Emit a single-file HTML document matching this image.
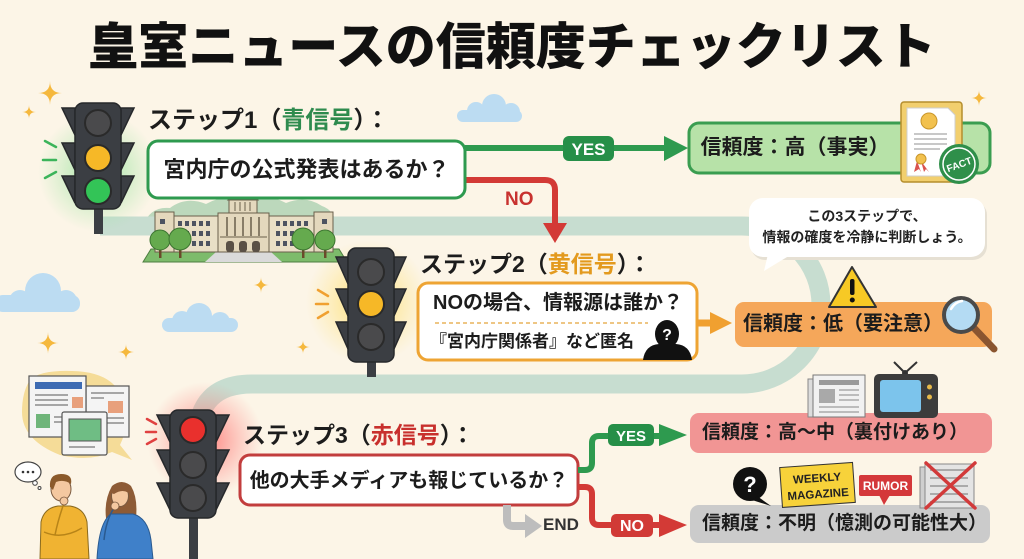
<!DOCTYPE html>
<html><head><meta charset="utf-8">
<style>
*{margin:0;padding:0;box-sizing:border-box}
body{width:1024px;height:559px;overflow:hidden;background:#fcf5e7;font-family:"Liberation Sans","Noto Sans CJK JP",sans-serif;}
#c{position:relative;width:1024px;height:559px;overflow:hidden}
svg{position:absolute;left:0;top:0}
.t{position:absolute;white-space:nowrap;font-weight:700;color:#1c1c1c}
</style></head><body><div id="c">
<svg width="1024" height="559" viewBox="0 0 1024 559" xmlns="http://www.w3.org/2000/svg">
<defs>
<radialGradient id="gG"><stop offset="0" stop-color="#7fe08a" stop-opacity=".75"/><stop offset="1" stop-color="#9be3a0" stop-opacity="0"/></radialGradient>
<radialGradient id="gY"><stop offset="0" stop-color="#ffd84a" stop-opacity=".8"/><stop offset="1" stop-color="#ffe27a" stop-opacity="0"/></radialGradient>
<radialGradient id="gR"><stop offset="0" stop-color="#ff5a5a" stop-opacity=".75"/><stop offset="1" stop-color="#ff8080" stop-opacity="0"/></radialGradient>
</defs>

<!-- clouds -->
<g fill="#bcdcf2">
<rect x="-5" y="295" width="85" height="17" rx="8"/><circle cx="20" cy="301" r="11"/><circle cx="43" cy="291" r="18"/><circle cx="66" cy="301" r="11"/>
<rect x="162" y="318" width="76" height="14" rx="7"/><circle cx="182" cy="321" r="10"/><circle cx="199" cy="316" r="13"/><circle cx="220" cy="322" r="10"/>
<rect x="457" y="110" width="65" height="12" rx="6"/><circle cx="476" cy="111" r="9"/><circle cx="494" cy="106" r="12"/><circle cx="511" cy="112" r="9"/>
</g>

<!-- sparkles -->
<g fill="#f5b83d">
<path d="M50 81 Q50 93 62 93 Q50 93 50 105 Q50 93 38 93 Q50 93 50 81Z"/>
<path d="M29 105 Q29 112 36 112 Q29 112 29 119 Q29 112 22 112 Q29 112 29 105Z"/>
<path d="M979 90 Q979 98 987 98 Q979 98 979 106 Q979 98 971 98 Q979 98 979 90Z"/>
<path d="M261 277 Q261 285 269 285 Q261 285 261 293 Q261 285 253 285 Q261 285 261 277Z"/>
<path d="M48 332 Q48 343 59 343 Q48 343 48 354 Q48 343 37 343 Q48 343 48 332Z"/>
<path d="M126 344 Q126 352 134 352 Q126 352 126 360 Q126 352 118 352 Q126 352 126 344Z"/>
<path d="M303 340 Q303 347 310 347 Q303 347 303 354 Q303 347 296 347 Q303 347 303 340Z"/>
</g>

<!-- hills -->
<path d="M143 226 Q150 206 170 208 Q186 196 206 204 Q226 193 246 200 Q266 192 286 203 Q306 195 322 206 Q334 210 337 226 Z" fill="#bcd8bc"/>

<!-- road -->
<path d="M100 226 H742 A79 79 0 0 1 742 384 H252 Q197 384 197 440" stroke="#c7ddd0" stroke-width="19" fill="none"/>

<!-- glows -->
<ellipse cx="98" cy="172" rx="60" ry="60" fill="url(#gG)"/>
<ellipse cx="368" cy="302" rx="62" ry="62" fill="url(#gY)"/>
<ellipse cx="205" cy="440" rx="58" ry="58" fill="url(#gR)"/>

<!-- building -->
<path d="M143 262 L151 249 H339 L347 262 Z" fill="#7dbb6b" stroke="#4d7d40" stroke-width="1"/>
<path d="M205 262 L216 252 H271 L282 262 Z" fill="#dadada"/>
<rect x="155" y="216" width="178" height="36" fill="#e9dfc6" stroke="#6a5f4c" stroke-width="1"/>
<rect x="155" y="212" width="19" height="40" fill="#e4d8bd" stroke="#6a5f4c" stroke-width="1"/>
<rect x="314" y="212" width="19" height="40" fill="#e4d8bd" stroke="#6a5f4c" stroke-width="1"/>
<g fill="#4d5361">
<rect x="160" y="219" width="5" height="5"/><rect x="322" y="219" width="5" height="5"/>
<rect x="178" y="221" width="4" height="5"/><rect x="185" y="221" width="4" height="5"/><rect x="192" y="221" width="4" height="5"/><rect x="199" y="221" width="4" height="5"/><rect x="206" y="221" width="4" height="5"/>
<rect x="178" y="231" width="4" height="5"/><rect x="185" y="231" width="4" height="5"/><rect x="192" y="231" width="4" height="5"/><rect x="199" y="231" width="4" height="5"/><rect x="206" y="231" width="4" height="5"/>
<rect x="178" y="241" width="4" height="5"/><rect x="185" y="241" width="4" height="5"/><rect x="192" y="241" width="4" height="5"/><rect x="199" y="241" width="4" height="5"/><rect x="206" y="241" width="4" height="5"/>
<rect x="276" y="221" width="4" height="5"/><rect x="283" y="221" width="4" height="5"/><rect x="290" y="221" width="4" height="5"/><rect x="297" y="221" width="4" height="5"/><rect x="304" y="221" width="4" height="5"/>
<rect x="276" y="231" width="4" height="5"/><rect x="283" y="231" width="4" height="5"/><rect x="290" y="231" width="4" height="5"/><rect x="297" y="231" width="4" height="5"/><rect x="304" y="231" width="4" height="5"/>
<rect x="276" y="241" width="4" height="5"/><rect x="283" y="241" width="4" height="5"/><rect x="290" y="241" width="4" height="5"/><rect x="297" y="241" width="4" height="5"/><rect x="304" y="241" width="4" height="5"/>
</g>
<rect x="218" y="213" width="51" height="39" fill="#e4d8bd" stroke="#6a5f4c" stroke-width="1"/>
<g stroke="#6a5f4c" stroke-width="1.5"><line x1="227" y1="217" x2="227" y2="236"/><line x1="235" y1="217" x2="235" y2="236"/><line x1="243" y1="217" x2="243" y2="236"/><line x1="251" y1="217" x2="251" y2="236"/><line x1="259" y1="217" x2="259" y2="236"/></g>
<line x1="220" y1="237" x2="267" y2="237" stroke="#6a5f4c"/>
<g fill="#5a5046"><rect x="226" y="241" width="8" height="11" rx="3"/><rect x="239" y="241" width="8" height="11" rx="3"/><rect x="252" y="241" width="8" height="11" rx="3"/></g>
<rect x="229" y="200" width="28" height="13" fill="#e4d8bd" stroke="#6a5f4c" stroke-width="1"/>
<g stroke="#6a5f4c"><line x1="235" y1="202" x2="235" y2="211"/><line x1="240" y1="202" x2="240" y2="211"/><line x1="245" y1="202" x2="245" y2="211"/><line x1="250" y1="202" x2="250" y2="211"/></g>
<polygon points="243,186 228,200 258,200" fill="#d3c6a8" stroke="#6a5f4c" stroke-width="1"/>
<g fill="#6a4a2a"><rect x="159" y="246" width="2.5" height="12"/><rect x="179" y="246" width="2.5" height="12"/><rect x="302" y="246" width="2.5" height="12"/><rect x="324" y="246" width="2.5" height="12"/></g>
<g fill="#65aa4e" stroke="#3b7430" stroke-width="1"><circle cx="160" cy="240" r="10"/><circle cx="180" cy="239" r="11"/><circle cx="303" cy="239" r="11"/><circle cx="325" cy="240" r="10"/></g>

<!-- traffic light 1 -->
<rect x="94" y="207" width="9" height="27" fill="#3b3e43"/>
<g fill="#3b3e43" stroke="#26282b" stroke-width="1.5">
<polygon points="75,108 62,108 75,135"/><polygon points="121,108 134,108 121,135"/>
<polygon points="75,143 62,143 75,170"/><polygon points="121,143 134,143 121,170"/>
<polygon points="75,176 62,176 75,203"/><polygon points="121,176 134,176 121,203"/>
<rect x="75" y="103" width="46" height="106" rx="8"/>
</g>
<circle cx="98" cy="123" r="13" fill="#4a4a4c" stroke="#2a2a2a" stroke-width="2"/>
<circle cx="98" cy="158" r="13" fill="#f6b827" stroke="#2a2a2a" stroke-width="2"/>
<circle cx="98" cy="191" r="13" fill="#33c457" stroke="#2a2a2a" stroke-width="2"/>
<g stroke="#3bb45a" stroke-width="2.5" stroke-linecap="round"><line x1="45" y1="141" x2="56" y2="147"/><line x1="43" y1="160" x2="56" y2="160"/><line x1="45" y1="178" x2="56" y2="172"/></g>

<!-- traffic light 2 -->
<rect x="367" y="360" width="9" height="17" fill="#3b3e43"/>
<g fill="#3b3e43" stroke="#26282b" stroke-width="1.5">
<polygon points="348,257 336,257 348,284"/><polygon points="394,257 406,257 394,284"/>
<polygon points="348,289 336,289 348,316"/><polygon points="394,289 406,289 394,316"/>
<polygon points="348,322 336,322 348,349"/><polygon points="394,322 406,322 394,349"/>
<rect x="348" y="248" width="46" height="114" rx="8"/>
</g>
<circle cx="371" cy="272" r="13" fill="#4a4a4c" stroke="#2a2a2a" stroke-width="2"/>
<circle cx="371" cy="304" r="13" fill="#f6b827" stroke="#2a2a2a" stroke-width="2"/>
<circle cx="371" cy="337" r="13" fill="#4a4a4c" stroke="#2a2a2a" stroke-width="2"/>
<g stroke="#f0a030" stroke-width="2.5" stroke-linecap="round"><line x1="318" y1="290" x2="328" y2="296"/><line x1="316" y1="304" x2="328" y2="304"/><line x1="318" y1="318" x2="328" y2="312"/></g>

<!-- traffic light 3 -->
<rect x="189" y="516" width="9" height="45" fill="#3b3e43"/>
<g fill="#3b3e43" stroke="#26282b" stroke-width="1.5">
<polygon points="170,415 157,415 170,442"/><polygon points="216,415 229,415 216,442"/>
<polygon points="170,450 157,450 170,477"/><polygon points="216,450 229,450 216,477"/>
<polygon points="170,483 157,483 170,510"/><polygon points="216,483 229,483 216,510"/>
<rect x="170" y="410" width="46" height="108" rx="8"/>
</g>
<circle cx="193" cy="430" r="13" fill="#e9302d" stroke="#2a2a2a" stroke-width="2"/>
<circle cx="193" cy="465" r="13" fill="#4a4a4c" stroke="#2a2a2a" stroke-width="2"/>
<circle cx="193" cy="498" r="13" fill="#4a4a4c" stroke="#2a2a2a" stroke-width="2"/>
<g stroke="#e04040" stroke-width="2.5" stroke-linecap="round"><line x1="147" y1="419" x2="156" y2="424"/><line x1="146" y1="432" x2="156" y2="432"/><line x1="147" y1="444" x2="156" y2="439"/></g>

<!-- connectors step 1 -->
<line x1="465" y1="148" x2="668" y2="148" stroke="#2e9a4f" stroke-width="6"/>
<polygon points="664,136 688,148 664,161" fill="#2e9a4f"/>
<rect x="563" y="136" width="51" height="25" rx="6" fill="#268f48"/>
<text x="588.5" y="155" font-family="Liberation Sans" font-weight="700" font-size="17" fill="#fff" text-anchor="middle">YES</text>
<path d="M465 180 H545 Q555 180 555 190 V226" stroke="#d33a36" stroke-width="6" fill="none"/>
<polygon points="543,223 567,223 555,243" fill="#d33a36"/>

<!-- boxes -->
<rect x="148" y="141" width="317" height="57" rx="10" fill="#fff" stroke="#2e9a4f" stroke-width="3"/>
<rect x="689" y="123" width="301" height="50" rx="10" fill="#b7e2a8" stroke="#3a9d50" stroke-width="3"/>

<!-- certificate -->
<rect x="901" y="102" width="61" height="80" rx="3" fill="#f2cf6e" stroke="#b58e2d" stroke-width="1.5"/>
<path d="M907 108 H948 L955 115 V176 H907 Z" fill="#fff" stroke="#cfcfcf"/>
<circle cx="929" cy="121" r="8" fill="#f2c14e" stroke="#c9962a"/>
<g stroke="#c8c8c8" stroke-width="2"><line x1="914" y1="134" x2="947" y2="134"/><line x1="914" y1="139" x2="947" y2="139"/><line x1="914" y1="144" x2="947" y2="144"/><line x1="914" y1="149" x2="940" y2="149"/></g>
<polygon points="917,161 914,172 919,169 921,172" fill="#d9534f"/><polygon points="921,161 924,172 926,169 929,172" fill="#d9534f"/>
<circle cx="921" cy="159" r="5" fill="#f2c14e" stroke="#c9962a"/>
<circle cx="959" cy="164" r="20" fill="#2f8f4a"/>
<circle cx="959" cy="164" r="16" fill="none" stroke="#fff" stroke-width="1.5"/>
<text x="959" y="168" font-family="Liberation Sans" font-weight="700" font-size="10" fill="#fff" text-anchor="middle" transform="rotate(-20 959 164)">FACT</text>

<!-- bubble -->
<rect x="751" y="201" width="236" height="59" rx="14" fill="#e6e0d3"/>
<polygon points="768,254 764,271 792,254" fill="#fff"/>
<rect x="749" y="198" width="236" height="59" rx="14" fill="#fff"/>

<!-- step 2 -->
<rect x="418" y="283" width="279" height="77" rx="10" fill="#fff" stroke="#eea433" stroke-width="3"/>
<line x1="435" y1="323" x2="648" y2="323" stroke="#e9b45c" stroke-width="1.5" stroke-dasharray="4 3"/>
<ellipse cx="667" cy="334" rx="12" ry="14" fill="#111"/>
<path d="M643 360 Q645 345 659 344 H676 Q690 345 692 360 Z" fill="#111"/>
<text x="667" y="340" font-family="Liberation Sans" font-weight="700" font-size="16" fill="#fff" text-anchor="middle">?</text>
<line x1="697" y1="323" x2="714" y2="323" stroke="#f0a030" stroke-width="7"/>
<polygon points="710,312 732,323 710,334" fill="#f0a030"/>
<rect x="735" y="302" width="257" height="45" rx="9" fill="#f5a75a"/>
<polygon points="852,267 876,307 829,307" fill="#f7c925" stroke="#333" stroke-width="2" stroke-linejoin="round"/>
<rect x="850" y="279" width="4.5" height="16" rx="2" fill="#111"/><circle cx="852.3" cy="300" r="2.5" fill="#111"/>
<line x1="974" y1="328" x2="994" y2="349" stroke="#8a5530" stroke-width="7" stroke-linecap="round"/>
<circle cx="961" cy="315" r="17" fill="#b4dbf3" stroke="#4a4a4a" stroke-width="4"/>
<path d="M951 309 Q955 302 962 301" stroke="#fff" stroke-width="2.5" fill="none" stroke-linecap="round"/>

<!-- step 3 -->
<rect x="240" y="455" width="338" height="50" rx="10" fill="#fff" stroke="#c23d3d" stroke-width="3"/>
<path d="M578 470 H585 Q592 470 592 463 V443 Q592 436 599 436 H662" stroke="#2e9a4f" stroke-width="6" fill="none"/>
<polygon points="659,424 687,435 659,446" fill="#2e9a4f"/>
<rect x="608" y="424" width="46" height="22" rx="5" fill="#268f48"/>
<text x="631" y="441" font-family="Liberation Sans" font-weight="700" font-size="15" fill="#fff" text-anchor="middle">YES</text>
<path d="M578 487 H585 Q592 487 592 494 V518 Q592 525 599 525 H662" stroke="#d33a36" stroke-width="6" fill="none"/>
<polygon points="659,514 687,525 659,537" fill="#d33a36"/>
<rect x="611" y="514" width="42" height="23" rx="5" fill="#d13a36"/>
<text x="632" y="531" font-family="Liberation Sans" font-weight="700" font-size="16" fill="#fff" text-anchor="middle">NO</text>
<path d="M507 505 V520 Q507 526 513 526 H528" stroke="#bdbdbd" stroke-width="8" fill="none"/>
<polygon points="525,514 542,526 525,538" fill="#bdbdbd"/>

<rect x="690" y="413" width="302" height="40" rx="9" fill="#f19594"/>
<rect x="690" y="505" width="300" height="38" rx="9" fill="#cbcbcb"/>

<!-- newspaper + tv -->
<rect x="808" y="379" width="50" height="38" fill="#dcdcdc" stroke="#888"/>
<rect x="813" y="375" width="52" height="42" fill="#f1f1f1" stroke="#777"/>
<rect x="819" y="380" width="40" height="5" fill="#9a9a9a"/>
<rect x="819" y="389" width="16" height="14" fill="#a9a9a9"/>
<g stroke="#aaa" stroke-width="1.5"><line x1="839" y1="390" x2="859" y2="390"/><line x1="839" y1="395" x2="859" y2="395"/><line x1="839" y1="400" x2="859" y2="400"/><line x1="819" y1="407" x2="859" y2="407"/><line x1="819" y1="412" x2="859" y2="412"/></g>
<g stroke="#333" stroke-width="2"><line x1="905" y1="373" x2="894" y2="362"/><line x1="905" y1="373" x2="917" y2="362"/></g>
<circle cx="905" cy="373" r="3" fill="#333"/>
<rect x="874" y="374" width="64" height="44" rx="5" fill="#3c3c3c"/>
<rect x="880" y="380" width="41" height="32" rx="3" fill="#7cc4ec"/>
<circle cx="929.5" cy="387" r="2.5" fill="#e5b84a"/><circle cx="929.5" cy="397" r="2.5" fill="#e5b84a"/>

<!-- 3b icons -->
<circle cx="750" cy="484" r="17" fill="#111"/>
<polygon points="757,496 771,506 752,500" fill="#111"/>
<text x="750" y="492" font-family="Liberation Sans" font-weight="700" font-size="22" fill="#fff" text-anchor="middle">?</text>
<g transform="rotate(-4 817 485)">
<rect x="781" y="465" width="73" height="40" fill="#f7d23a" stroke="#333" stroke-width="1"/>
<text x="817.5" y="482" font-family="Liberation Sans" font-weight="700" font-size="11.5" fill="#222" text-anchor="middle">WEEKLY</text>
<text x="817.5" y="498" font-family="Liberation Sans" font-weight="700" font-size="11.5" fill="#222" text-anchor="middle">MAGAZINE</text>
</g>
<rect x="859" y="475" width="53" height="21" rx="2" fill="#d4383a"/>
<polygon points="879,495 890,495 884,505" fill="#d4383a"/>
<text x="885.5" y="490" font-family="Liberation Sans" font-weight="700" font-size="12" fill="#fff" text-anchor="middle">RUMOR</text>
<rect x="920" y="467" width="48" height="41" fill="#cfcfcf" stroke="#888"/>
<rect x="925" y="464" width="49" height="44" fill="#e4e4e4" stroke="#888"/>
<g stroke="#aaa" stroke-width="2"><line x1="930" y1="470" x2="968" y2="470"/><line x1="930" y1="478" x2="968" y2="478"/><line x1="930" y1="486" x2="968" y2="486"/><line x1="930" y1="494" x2="968" y2="494"/><line x1="930" y1="502" x2="968" y2="502"/></g>
<g stroke="#d23a3a" stroke-width="3.5" stroke-linecap="round"><line x1="926" y1="463" x2="975" y2="508"/><line x1="975" y1="463" x2="926" y2="508"/></g>

<!-- bottom left docs -->
<path d="M30 380 Q40 370 72 371 Q118 372 124 405 Q128 430 120 445 L132 460 L112 452 Q90 462 60 455 Q22 440 22 412 Q22 392 30 380Z" fill="#f5dc98"/>
<rect x="86" y="386" width="43" height="51" fill="#f4f4f4" stroke="#555" stroke-width="1.2"/>
<rect x="108" y="401" width="15" height="12" fill="#e8a07c"/>
<g stroke="#777" stroke-width="1.2"><line x1="91" y1="393" x2="124" y2="393"/><line x1="91" y1="398" x2="104" y2="398"/><line x1="91" y1="418" x2="124" y2="418"/><line x1="91" y1="423" x2="124" y2="423"/></g>
<rect x="29" y="376" width="57" height="61" fill="#f4f4f4" stroke="#555" stroke-width="1.2"/>
<rect x="35" y="382" width="47" height="7" fill="#3d6bb3"/>
<rect x="72" y="397" width="11" height="11" fill="#e8a07c"/>
<rect x="36" y="414" width="14" height="14" fill="#6fb57a"/>
<g stroke="#777" stroke-width="1.2"><line x1="35" y1="395" x2="68" y2="395"/><line x1="35" y1="400" x2="68" y2="400"/><line x1="35" y1="405" x2="68" y2="405"/><line x1="54" y1="417" x2="80" y2="417"/><line x1="54" y1="422" x2="80" y2="422"/></g>
<rect x="62" y="412" width="45" height="43" rx="2" fill="#f4f4f4" stroke="#555" stroke-width="1.2"/>
<rect x="69" y="419" width="32" height="22" fill="#6fbd84" stroke="#555" stroke-width="1"/>
<line x1="69" y1="447" x2="95" y2="447" stroke="#777" stroke-width="1.2"/>

<!-- people -->
<ellipse cx="28" cy="472" rx="13" ry="10" fill="#fff" stroke="#444" stroke-width="1.2"/>
<g fill="#333"><circle cx="23" cy="472" r="1.3"/><circle cx="28" cy="472" r="1.3"/><circle cx="33" cy="472" r="1.3"/></g>
<circle cx="35" cy="483" r="2.3" fill="#fff" stroke="#444"/><circle cx="39.5" cy="488" r="1.5" fill="#fff" stroke="#444"/>
<path d="M40 559 L41 522 Q44 508 58 506 H70 Q84 508 87 522 L89 559 Z" fill="#f0b332" stroke="#8a6a20" stroke-width="1"/>
<path d="M44 532 Q62 540 82 528" stroke="#b88418" stroke-width="1.5" fill="none"/>
<path d="M55 535 Q58 520 64 503" stroke="#b88418" stroke-width="1.5" fill="none"/>
<ellipse cx="61" cy="489" rx="10" ry="12" fill="#f4c8a0" stroke="#7a5a40" stroke-width="1"/>
<path d="M50 487 Q49 474 61 474 Q73 474 71 484 Q64 479 56 482 L53 490 Z" fill="#8b5a2b"/>
<circle cx="64" cy="501" r="4" fill="#f4c8a0" stroke="#7a5a40" stroke-width=".8"/>
<path d="M106 518 Q104 500 112 486 Q122 478 131 486 Q138 498 136 518 Z" fill="#8d5b36"/>
<path d="M97 559 Q99 522 111 514 H133 Q148 518 151 540 L153 559 Z" fill="#3f80c9" stroke="#2a5a90" stroke-width="1"/>
<ellipse cx="120" cy="496" rx="8.5" ry="10.5" fill="#f4c8a0" stroke="#7a5a40" stroke-width="1"/>
<path d="M111 493 Q112 484 121 484 Q129 485 130 494 Q123 488 114 494Z" fill="#8d5b36"/>
<path d="M104 540 Q106 520 114 508" stroke="#2a5a90" stroke-width="1.5" fill="none"/>
<circle cx="115" cy="506" r="4" fill="#f4c8a0" stroke="#7a5a40" stroke-width=".8"/>
</svg>

<div class="t" style="left:0;width:1024px;text-align:center;top:17px;line-height:60px;font-size:50px;font-weight:900;color:#111">皇室ニュースの信頼度チェックリスト</div>

<div class="t" style="left:148px;top:106px;line-height:30px;font-size:24px">ステップ1（<span style="color:#2e8b4e">青信号</span>）：</div>
<div class="t" style="left:148px;width:317px;text-align:center;top:155px;line-height:30px;font-size:22px">宮内庁の公式発表はあるか？</div>
<div class="t" style="left:505px;top:190px;line-height:20px;font-size:19px;color:#c8322f">NO</div>
<div class="t" style="left:689px;width:212px;text-align:center;top:133px;line-height:30px;font-size:21px">信頼度：高（事実）</div>
<div class="t" style="left:749px;width:236px;text-align:center;top:206px;line-height:21px;font-size:14px;color:#222">この3ステップで、<br>情報の確度を冷静に判断しょう。</div>

<div class="t" style="left:420px;top:249px;line-height:30px;font-size:23px">ステップ2（<span style="color:#e39a1e">黄信号</span>）：</div>
<div class="t" style="left:433px;top:289px;line-height:28px;font-size:20px">NOの場合、情報源は誰か？</div>
<div class="t" style="left:430px;top:329px;line-height:26px;font-size:17px">『宮内庁関係者』など匿名</div>
<div class="t" style="left:743px;top:310px;line-height:28px;font-size:20px">信頼度：低（要注意）</div>

<div class="t" style="left:243px;top:420px;line-height:30px;font-size:23px">ステップ3（<span style="color:#c8302d">赤信号</span>）：</div>
<div class="t" style="left:240px;width:338px;text-align:center;top:467px;line-height:28px;font-size:20px">他の大手メディアも報じているか？</div>
<div class="t" style="left:543px;top:515px;line-height:20px;font-size:17px;color:#333">END</div>
<div class="t" style="left:702px;top:419px;line-height:28px;font-size:19px">信頼度：高〜中（裏付けあり）</div>
<div class="t" style="left:702px;top:510px;line-height:28px;font-size:19px">信頼度：不明（憶測の可能性大）</div>
</div></body></html>
